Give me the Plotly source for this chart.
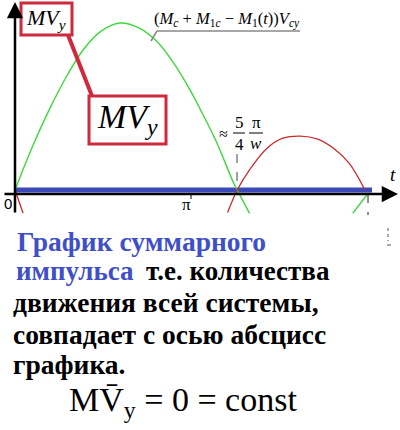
import plotly.graph_objects as go

# curves, t in units of pi, amplitude relative to green peak
green_t = [0, 0.1, 0.2, 0.3, 0.39, 0.49, 0.6, 0.71, 0.81, 0.9, 1.0, 1.06, 1.15, 1.25, 1.27, 1.34]
green_v = [0, 0.26, 0.49, 0.69, 0.84, 0.95, 1.0, 0.97, 0.89, 0.77, 0.6, 0.48, 0.29, 0.04, 0, -0.14]
green2_t = [1.93, 2.01]
green2_v = [-0.14, -0.03]

red1_t = [0, 0.046]
red1_v = [0, -0.138]
red_t = [1.215, 1.27, 1.34, 1.44, 1.53, 1.63, 1.73, 1.82, 1.91, 2.0]
red_v = [-0.135, 0, 0.12, 0.25, 0.31, 0.323, 0.305, 0.25, 0.16, 0]

total_t = [0, 2.04]
total_v = [0, 0]

W, H = 400, 430
SERIF = "Liberation Serif"


def X(px):
    return px / W


def Y(py):
    return 1 - py / H


fig = go.Figure()
fig.add_trace(go.Scatter(x=total_t, y=total_v, mode="lines",
                         line=dict(color="#3a48b8", width=5)))
fig.add_trace(go.Scatter(x=green_t, y=green_v, mode="lines", line_shape="spline",
                         line=dict(color="#3cd83c", width=1.4)))
fig.add_trace(go.Scatter(x=green2_t, y=green2_v, mode="lines",
                         line=dict(color="#3cd83c", width=1.4)))
fig.add_trace(go.Scatter(x=red1_t, y=red1_v, mode="lines",
                         line=dict(color="#cc2a2a", width=1.3)))
fig.add_trace(go.Scatter(x=red_t, y=red_v, mode="lines", line_shape="spline",
                         line=dict(color="#cc2a2a", width=1.3)))

shapes = [
    # red boxes and connector
    dict(type="line", xref="paper", yref="paper", x0=X(68), y0=Y(35), x1=X(92), y1=Y(96),
         line=dict(color="#d0283c", width=4)),
    dict(type="rect", xref="paper", yref="paper", x0=X(21), y0=Y(3), x1=X(72), y1=Y(35),
         line=dict(color="#d0283c", width=3), fillcolor="white"),
    dict(type="rect", xref="paper", yref="paper", x0=X(89), y0=Y(96), x1=X(166), y1=Y(144),
         line=dict(color="#d0283c", width=3), fillcolor="white"),
    # formula underline + leader
    dict(type="line", xref="paper", yref="paper", x0=X(157), y0=Y(31), x1=X(300), y1=Y(31),
         line=dict(color="#888888", width=1.5)),
    dict(type="line", xref="paper", yref="paper", x0=X(157), y0=Y(31), x1=X(151), y1=Y(41),
         line=dict(color="#888888", width=1.5)),
    # dashed markers
    dict(type="line", xref="paper", yref="paper", x0=X(237), y0=Y(154), x1=X(237), y1=Y(189),
         line=dict(color="#444444", width=1, dash="dash")),
    dict(type="line", xref="paper", yref="paper", x0=X(368), y0=Y(194), x1=X(368), y1=Y(215),
         line=dict(color="#222222", width=1, dash="dash")),
    dict(type="line", xref="paper", yref="paper", x0=X(388), y0=Y(228), x1=X(388), y1=Y(241),
         line=dict(color="#555555", width=1, dash="dot")),
    dict(type="line", xref="paper", yref="paper", x0=X(387), y0=Y(245), x1=X(391), y1=Y(245),
         line=dict(color="#555555", width=1)),
    # pi tick
    dict(type="line", xref="paper", yref="paper", x0=X(191), y0=Y(194), x1=X(191), y1=Y(199),
         line=dict(color="black", width=1)),
    # fraction bars
    dict(type="line", xref="paper", yref="paper", x0=X(233), y0=Y(133), x1=X(245), y1=Y(133),
         line=dict(color="black", width=1)),
    dict(type="line", xref="paper", yref="paper", x0=X(249), y0=Y(133), x1=X(263), y1=Y(133),
         line=dict(color="black", width=1)),
]

ann = []


def txt(text, px, py, size, color="black", xanchor="center", family=SERIF):
    ann.append(dict(text=text, x=X(px), y=Y(py), xref="paper", yref="paper",
                    showarrow=False, xanchor=xanchor, yanchor="middle",
                    font=dict(family=family, size=size, color=color)))


# axes arrows
ann.append(dict(text="", x=X(398), y=Y(194), xref="paper", yref="paper", showarrow=True,
                ax=-395, ay=0, arrowhead=2, arrowsize=1.3, arrowwidth=2.5, arrowcolor="black"))
ann.append(dict(text="", x=X(15), y=Y(2), xref="paper", yref="paper", showarrow=True,
                ax=0, ay=212, arrowhead=2, arrowsize=1.3, arrowwidth=2.5, arrowcolor="black"))

txt("<i>MV<sub>y</sub></i>", 46, 19, 22)
txt("<i>MV<sub>y</sub></i>", 127, 119, 34)
txt("(<i>M<sub>c</sub></i> + <i>M</i><sub>1<i>c</i></sub> − <i>M</i><sub>1</sub>(<i>t</i>))<i>V<sub>cy</sub></i>",
    227, 19, 16.5)
txt("≈", 223, 133, 16)
txt("5", 239, 123, 17)
txt("4", 239, 144, 17)
txt("π", 256, 123, 17)
txt("<i>w</i>", 256, 143, 17)
txt("<i>t</i>", 393, 174, 19)
txt("0", 8, 203, 15, family="Liberation Sans")
txt("π", 186, 204, 17)

blue = "#3f4fc8"
txt("<b>График суммарного</b>", 15, 241, 27.5, color=blue, xanchor="left")
txt("<b>импульса</b>", 14, 271, 27, color=blue, xanchor="left")
txt("<b>т.е. количества</b>", 144, 271, 27, xanchor="left")
txt("<b>движения всей системы,</b>", 11, 302, 27.5, xanchor="left")
txt("<b>совпадает с осью абсцисс</b>", 11, 334, 27.5, xanchor="left")
txt("<b>графика.</b>", 11, 364, 27.5, xanchor="left")
txt("MV̄<sub>y</sub>\u00a0= 0 =\u00a0const", 183, 402, 34)

fig.update_layout(
    width=W, height=H, margin=dict(l=0, r=0, t=0, b=0),
    font=dict(family=SERIF),
    paper_bgcolor="white", plot_bgcolor="white", showlegend=False,
    xaxis=dict(range=[-15 / 175, 385 / 175], visible=False, fixedrange=True),
    yaxis=dict(range=[-240 / 167, 190 / 167], visible=False, fixedrange=True),
    shapes=shapes, annotations=ann,
)

# page body has a default 8px margin; drop it so the figure sits at the corner
fig.write_html("out.html", config=dict(displayModeBar=False),
               post_script="document.body.style.margin='0';")
